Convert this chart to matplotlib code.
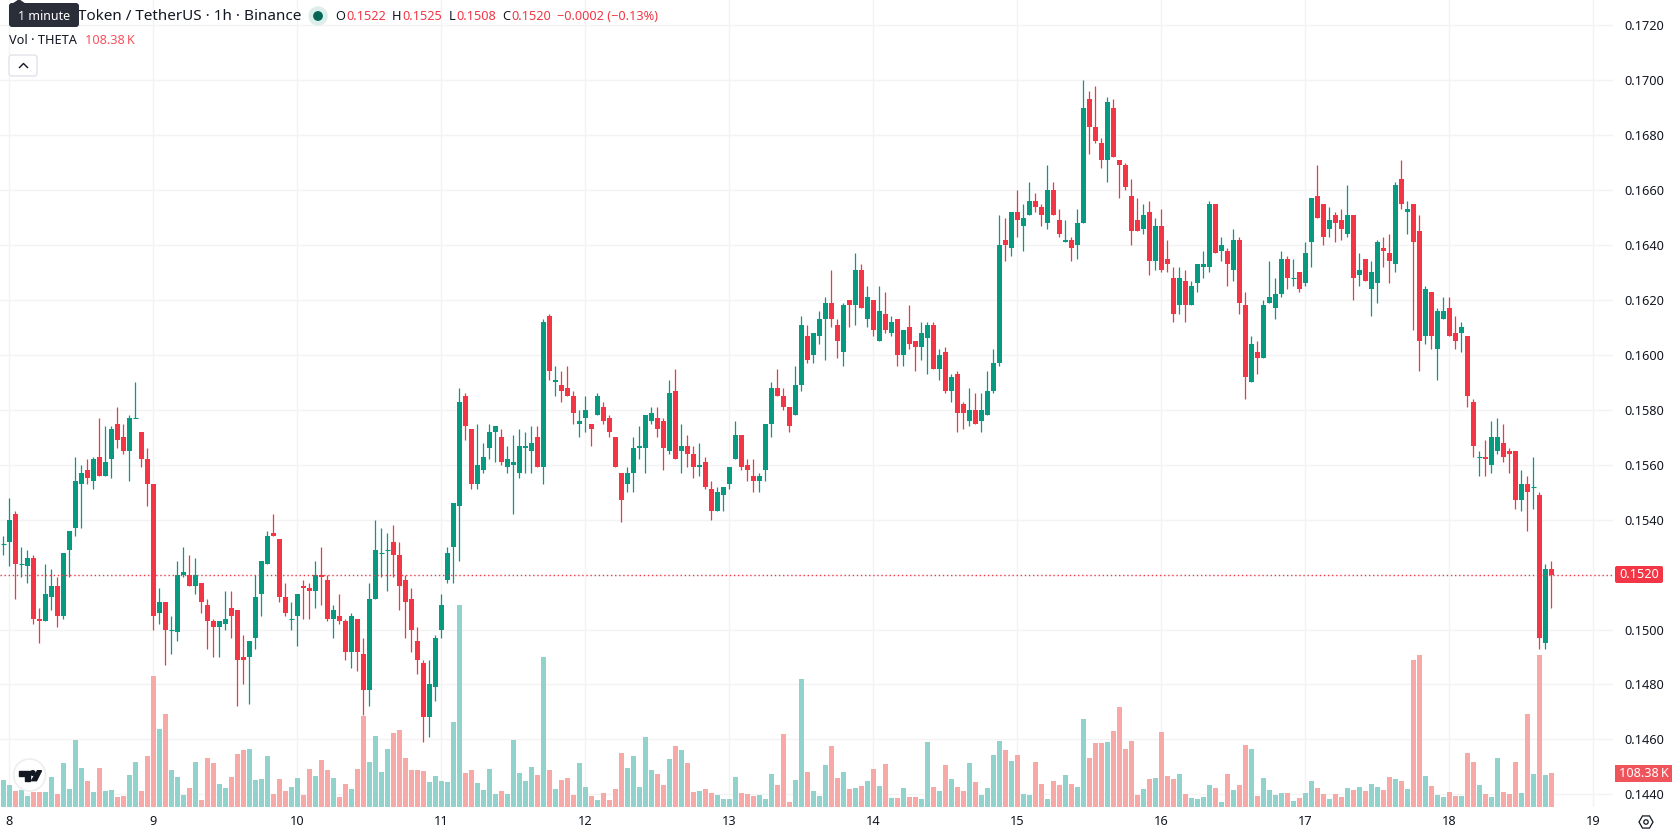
"""Hourly THETA/USDT candlesticks with a volume histogram, 8-18 of the month."""
import matplotlib
matplotlib.use('Agg')
import matplotlib.pyplot as plt
from matplotlib.patches import Circle, FancyBboxPatch, Polygon, Rectangle
import numpy as np

plt.rcParams['font.family'] = ['Noto Sans', 'DejaVu Sans']

# prices in units of 0.0001, one entry per hour
opens = [
    1531, 1532, 1542, 1524, 1523, 1526, 1504, 1503, 1512, 1516,
    1505, 1529, 1537, 1553, 1558, 1554, 1563, 1556, 1562, 1575,
    1570, 1565, 1577, 1572, 1562, 1553, 1506, 1510, 1500, 1499,
    1520, 1520, 1516, 1517, 1509, 1503, 1501, 1502, 1508, 1507,
    1490, 1490, 1497, 1513, 1524, 1535, 1533, 1512, 1504, 1505,
    1516, 1515, 1514, 1520, 1518, 1504, 1505, 1503, 1492, 1504,
    1491, 1478, 1511, 1528, 1529, 1532, 1527, 1518, 1511, 1496,
    1488, 1468, 1479, 1500, 1518, 1530, 1545, 1585, 1573, 1553,
    1558, 1566, 1572, 1570, 1559, 1560, 1557, 1566, 1565, 1570,
    1559, 1614, 1590, 1589, 1588, 1585, 1575, 1577, 1575, 1578,
    1581, 1577, 1570, 1557, 1553, 1557, 1566, 1566, 1576, 1577,
    1576, 1565, 1587, 1565, 1567, 1564, 1559, 1561, 1551, 1543,
    1549, 1553, 1562, 1571, 1560, 1556, 1554, 1558, 1575, 1588,
    1585, 1581, 1578, 1589, 1607, 1600, 1607, 1613, 1619, 1611,
    1601, 1620, 1618, 1631, 1613, 1620, 1605, 1615, 1608, 1613,
    1600, 1610, 1605, 1603, 1606, 1611, 1595, 1601, 1587, 1593,
    1582, 1576, 1580, 1576, 1578, 1587, 1597, 1642, 1639, 1652,
    1647, 1651, 1656, 1654, 1648, 1660, 1649, 1641, 1642, 1640,
    1648, 1693, 1683, 1677, 1671, 1690, 1671, 1669, 1658, 1649,
    1646, 1652, 1634, 1647, 1635, 1628, 1618, 1627, 1618, 1626,
    1632, 1632, 1655, 1638, 1638, 1631, 1642, 1618, 1590, 1601,
    1599, 1619, 1617, 1622, 1635, 1628, 1630, 1626, 1641, 1658,
    1655, 1646, 1651, 1649, 1644, 1651, 1629, 1635, 1624, 1626,
    1639, 1637, 1633, 1664, 1652, 1655, 1645, 1607, 1623, 1602,
    1613, 1617, 1608, 1608, 1607, 1583, 1563, 1563, 1560, 1565,
    1568, 1565, 1565, 1547, 1553, 1552, 1549, 1495, 1522,
]
highs = [
    1534, 1548, 1543, 1530, 1529, 1527, 1508, 1524, 1522, 1519,
    1528, 1536, 1563, 1560, 1562, 1563, 1577, 1574, 1574, 1581,
    1575, 1578, 1590, 1572, 1566, 1553, 1515, 1510, 1505, 1525,
    1530, 1527, 1526, 1517, 1511, 1504, 1503, 1514, 1514, 1507,
    1498, 1496, 1520, 1525, 1536, 1542, 1533, 1517, 1510, 1513,
    1518, 1517, 1525, 1530, 1520, 1509, 1513, 1504, 1506, 1504,
    1497, 1517, 1540, 1537, 1535, 1538, 1532, 1520, 1515, 1501,
    1489, 1489, 1498, 1513, 1530, 1546, 1588, 1586, 1573, 1575,
    1568, 1575, 1574, 1573, 1567, 1571, 1573, 1572, 1574, 1574,
    1613, 1615, 1596, 1594, 1596, 1587, 1580, 1585, 1575, 1586,
    1583, 1578, 1570, 1557, 1559, 1570, 1574, 1578, 1581, 1581,
    1577, 1591, 1595, 1575, 1571, 1567, 1568, 1563, 1554, 1552,
    1552, 1559, 1576, 1571, 1562, 1562, 1557, 1575, 1590, 1595,
    1588, 1581, 1596, 1614, 1611, 1608, 1616, 1621, 1631, 1613,
    1619, 1620, 1637, 1633, 1625, 1620, 1625, 1623, 1614, 1613,
    1609, 1618, 1605, 1612, 1612, 1612, 1602, 1603, 1593, 1594,
    1583, 1588, 1586, 1586, 1594, 1602, 1651, 1650, 1652, 1660,
    1655, 1663, 1659, 1655, 1669, 1663, 1653, 1649, 1643, 1653,
    1700, 1696, 1698, 1679, 1694, 1693, 1671, 1670, 1664, 1657,
    1655, 1656, 1650, 1653, 1642, 1632, 1632, 1631, 1627, 1633,
    1638, 1656, 1655, 1643, 1639, 1646, 1643, 1623, 1607, 1605,
    1620, 1634, 1628, 1638, 1636, 1635, 1630, 1641, 1657, 1669,
    1655, 1654, 1652, 1653, 1662, 1651, 1637, 1635, 1634, 1642,
    1643, 1644, 1663, 1671, 1656, 1655, 1651, 1625, 1623, 1617,
    1621, 1621, 1614, 1612, 1607, 1584, 1565, 1569, 1576, 1577,
    1575, 1566, 1565, 1558, 1556, 1563, 1550, 1524, 1525,
]
lows = [
    1527, 1523, 1511, 1519, 1517, 1502, 1495, 1503, 1507, 1501,
    1504, 1519, 1534, 1537, 1553, 1551, 1556, 1556, 1555, 1566,
    1564, 1554, 1577, 1559, 1545, 1500, 1502, 1487, 1491, 1496,
    1519, 1516, 1513, 1506, 1493, 1490, 1490, 1500, 1497, 1472,
    1480, 1473, 1493, 1505, 1524, 1534, 1510, 1505, 1500, 1494,
    1504, 1504, 1508, 1509, 1503, 1497, 1502, 1489, 1486, 1485,
    1469, 1472, 1511, 1519, 1514, 1519, 1507, 1497, 1492, 1484,
    1459, 1461, 1474, 1497, 1517, 1517, 1525, 1569, 1551, 1551,
    1557, 1562, 1561, 1560, 1557, 1542, 1555, 1557, 1557, 1559,
    1553, 1591, 1585, 1583, 1585, 1575, 1570, 1572, 1567, 1578,
    1575, 1570, 1559, 1539, 1550, 1550, 1562, 1557, 1575, 1570,
    1558, 1564, 1562, 1557, 1559, 1555, 1556, 1551, 1540, 1543,
    1543, 1551, 1562, 1558, 1554, 1550, 1550, 1554, 1570, 1585,
    1580, 1572, 1578, 1587, 1597, 1597, 1604, 1598, 1610, 1599,
    1596, 1610, 1611, 1617, 1610, 1607, 1605, 1608, 1607, 1596,
    1596, 1602, 1594, 1598, 1593, 1595, 1591, 1586, 1583, 1572,
    1573, 1574, 1575, 1572, 1578, 1586, 1596, 1634, 1636, 1643,
    1638, 1651, 1652, 1647, 1646, 1651, 1643, 1641, 1634, 1635,
    1648, 1673, 1677, 1668, 1663, 1672, 1657, 1660, 1640, 1645,
    1644, 1629, 1631, 1630, 1630, 1612, 1615, 1612, 1618, 1623,
    1628, 1630, 1637, 1634, 1625, 1627, 1615, 1584, 1590, 1593,
    1599, 1619, 1613, 1621, 1624, 1625, 1623, 1625, 1632, 1650,
    1640, 1643, 1641, 1642, 1643, 1620, 1625, 1627, 1614, 1619,
    1632, 1626, 1630, 1653, 1644, 1609, 1594, 1604, 1602, 1591,
    1613, 1607, 1602, 1601, 1581, 1563, 1556, 1556, 1557, 1564,
    1561, 1557, 1544, 1543, 1536, 1544, 1493, 1493, 1508,
]
closes = [
    1531, 1540, 1524, 1524, 1526, 1504, 1503, 1513, 1516, 1505,
    1528, 1536, 1554, 1557, 1555, 1562, 1556, 1561, 1573, 1569,
    1565, 1577, 1577, 1562, 1553, 1505, 1510, 1500, 1500, 1520,
    1521, 1516, 1520, 1510, 1503, 1501, 1503, 1504, 1505, 1489,
    1489, 1496, 1512, 1525, 1534, 1534, 1512, 1506, 1504, 1513,
    1515, 1514, 1520, 1519, 1504, 1507, 1503, 1492, 1505, 1492,
    1478, 1511, 1529, 1528, 1529, 1527, 1516, 1510, 1500, 1489,
    1468, 1480, 1497, 1509, 1528, 1546, 1583, 1574, 1553, 1560,
    1563, 1572, 1574, 1561, 1562, 1561, 1567, 1567, 1568, 1559,
    1612, 1594, 1591, 1587, 1585, 1579, 1576, 1580, 1573, 1585,
    1576, 1572, 1559, 1547, 1557, 1566, 1567, 1578, 1579, 1573,
    1566, 1586, 1562, 1567, 1564, 1559, 1560, 1552, 1543, 1550,
    1552, 1559, 1571, 1559, 1558, 1554, 1556, 1575, 1588, 1585,
    1581, 1574, 1589, 1611, 1598, 1608, 1613, 1619, 1613, 1605,
    1618, 1618, 1631, 1617, 1621, 1609, 1616, 1609, 1612, 1600,
    1609, 1604, 1603, 1608, 1611, 1595, 1600, 1587, 1592, 1579,
    1579, 1580, 1575, 1580, 1587, 1597, 1640, 1640, 1652, 1649,
    1650, 1656, 1654, 1651, 1660, 1651, 1644, 1642, 1639, 1648,
    1690, 1683, 1678, 1671, 1692, 1672, 1669, 1661, 1645, 1645,
    1651, 1634, 1647, 1631, 1633, 1615, 1628, 1618, 1625, 1633,
    1633, 1655, 1637, 1640, 1633, 1642, 1619, 1592, 1604, 1599,
    1618, 1621, 1622, 1635, 1628, 1628, 1624, 1637, 1657, 1650,
    1643, 1649, 1648, 1646, 1651, 1628, 1631, 1627, 1630, 1641,
    1638, 1634, 1662, 1655, 1653, 1641, 1605, 1624, 1607, 1616,
    1616, 1607, 1605, 1610, 1585, 1567, 1563, 1562, 1570, 1570,
    1563, 1564, 1547, 1553, 1550, 1552, 1497, 1522, 1520,
]
# volume in thousands
volumes = [
    86, 70, 51, 54, 35, 48, 48, 48, 96, 41,
    140, 57, 214, 124, 83, 48, 124, 51, 54, 32,
    35, 102, 143, 51, 163, 418, 249, 296, 118, 96,
    38, 61, 143, 22, 156, 140, 73, 61, 96, 169,
    182, 185, 86, 89, 163, 41, 89, 51, 64, 92,
    38, 121, 99, 150, 118, 92, 32, 73, 57, 121,
    290, 143, 226, 112, 185, 236, 245, 156, 118, 118,
    115, 80, 99, 83, 80, 271, 644, 108, 118, 77,
    54, 121, 41, 51, 41, 214, 108, 83, 128, 102,
    478, 118, 57, 86, 92, 38, 140, 64, 35, 22,
    45, 22, 57, 172, 124, 163, 64, 223, 118, 105,
    70, 153, 194, 182, 140, 48, 51, 57, 45, 38,
    26, 26, 96, 45, 41, 35, 38, 26, 105, 70,
    233, 16, 86, 408, 112, 51, 35, 134, 194, 92,
    112, 57, 61, 67, 83, 121, 67, 137, 29, 29,
    61, 32, 32, 26, 207, 64, 51, 134, 89, 64,
    51, 140, 80, 38, 61, 166, 210, 182, 147, 166,
    41, 38, 143, 73, 26, 83, 70, 102, 73, 64,
    281, 156, 204, 204, 207, 242, 319, 185, 210, 38,
    57, 89, 92, 239, 99, 89, 105, 41, 29, 26,
    32, 70, 61, 16, 105, 54, 70, 198, 185, 35,
    92, 54, 38, 45, 45, 19, 29, 45, 83, 61,
    41, 26, 41, 32, 61, 54, 64, 51, 73, 64,
    54, 96, 89, 83, 57, 469, 485, 99, 67, 38,
    32, 48, 35, 35, 172, 143, 70, 41, 32, 156,
    48, 41, 143, 45, 296, 105, 485, 102, 108.38,
]
day_labels = ['8', '9', '10', '11', '12', '13', '14', '15', '16', '17', '18', '19']
bold_days = ['8', '15']
price_ticks = [0.1440, 0.1460, 0.1480, 0.1500, 0.1520, 0.1540, 0.1560, 0.1580,
               0.1600, 0.1620, 0.1640, 0.1660, 0.1680, 0.1700, 0.1720]
last_price = 0.1520

GREEN = '#089981'
RED = '#F23645'
VOL_GREEN = '#92D2CC'
VOL_RED = '#F7A9A7'
GRID = '#F3F3F4'
TEXT = '#131722'
FS = 9.2

W, H = 1678, 835
PANE_RIGHT, PANE_BOTTOM = 1613, 807
XLIM = (-0.555, 268.3)
YLIM = (0.14354, 0.17292)

fig = plt.figure(figsize=(W / 100, H / 100), dpi=100, facecolor='white')
pane = [0, (H - PANE_BOTTOM) / H, PANE_RIGHT / W, PANE_BOTTOM / H]

o = np.array(opens) / 1e4
h = np.array(highs) / 1e4
l = np.array(lows) / 1e4
c = np.array(closes) / 1e4
x = np.arange(len(o))
up = c >= o
flat = c == o
colors = np.where(up, GREEN, RED)

# bottom layer: grid and both scales
ax = fig.add_axes(pane, zorder=0)
ax.set_xlim(*XLIM)
ax.set_ylim(*YLIM)
for s in ax.spines.values():
    s.set_visible(False)
day_pos = [1 + 24 * k for k in range(len(day_labels))]
ax.set_xticks(day_pos, day_labels)
# the last price tag stands in for the 0.1520 scale label
ax.set_yticks(price_ticks, ['' if p == last_price else '%.4f' % p for p in price_ticks])
ax.yaxis.tick_right()
ax.tick_params(axis='both', length=0, labelsize=FS, labelcolor=TEXT)
ax.tick_params(axis='x', pad=6)
ax.tick_params(axis='y', pad=8)
for lab in ax.get_xticklabels():
    if lab.get_text() in bold_days:
        lab.set_fontweight('bold')
ax.grid(True, color=GRID, linewidth=1.0)

# volume sits above the grid but behind the candles, on its own scale
ax_vol = fig.add_axes(pane, zorder=1)
ax_vol.bar(x, volumes, width=0.83, linewidth=0,
           color=np.where(up, VOL_GREEN, VOL_RED))
ax_vol.set_xlim(*XLIM)
ax_vol.set_ylim(0, PANE_BOTTOM * 3.1875)
ax_vol.axis('off')

ax_c = fig.add_axes(pane, zorder=2)
ax_c.set_xlim(*XLIM)
ax_c.set_ylim(*YLIM)
ax_c.axis('off')
ax_c.vlines(x, l, h, colors=colors, linewidth=0.9, zorder=3)
ax_c.bar(x, np.abs(c - o), bottom=np.minimum(o, c), width=0.83, color=colors,
         linewidth=0, zorder=4)
ax_c.hlines(o[flat], x[flat] - 0.415, x[flat] + 0.415, colors=colors[flat],
            linewidth=0.8, zorder=4)
ax_c.axhline(last_price, color=RED, linewidth=1.0, linestyle=(0, (0.95, 2.0)), zorder=5)

# header, price tags and icons are laid out in figure pixels
ui = fig.add_axes([0, 0, 1, 1], zorder=3)
ui.set_xlim(0, W)
ui.set_ylim(H, 0)
ui.axis('off')

ui.text(78.5, 16.5, 'Token / TetherUS · 1h · Binance', fontsize=11.0, color=TEXT, va='center')
ui.add_patch(Circle((318, 16), 9, color='#DCEFEB', zorder=2))
ui.add_patch(Circle((318, 16), 4.2, color='#056656', zorder=3))
ohlc = [(335, 'O', 346, '0.1522'), (392, 'H', 402, '0.1525'),
        (449, 'L', 456, '0.1508'), (502, 'C', 511, '0.1520')]
for kx, key, vx, val in ohlc:
    ui.text(kx, 16.5, key, fontsize=FS, color=TEXT, va='center')
    ui.text(vx, 16.5, val, fontsize=FS, color=RED, va='center')
ui.text(557, 16.5, '−0.0002 (−0.13%)', fontsize=FS, color=RED, va='center')

ui.add_patch(FancyBboxPatch((11, 5), 66, 20, boxstyle='round,pad=2,rounding_size=3',
                            facecolor='#2A2E39', edgecolor='none', zorder=4))
ui.add_patch(Polygon([(13, 4), (19, 0), (25, 4)], color='#2A2E39', zorder=4))
ui.text(44, 16, '1 minute', fontsize=9, color='white', va='center', ha='center', zorder=5)

ui.text(9, 41, 'Vol · THETA', fontsize=FS, color=TEXT, va='center')
ui.text(85, 41, '108.38\u2009K', fontsize=FS, color='#F7525F', va='center')
ui.add_patch(FancyBboxPatch((11, 57), 24, 17, boxstyle='round,pad=2,rounding_size=3',
                            facecolor='white', edgecolor='#E0E3EB', linewidth=1))
ui.plot([19.5, 23.5, 27.5], [67.5, 63.5, 67.5], color=TEXT, linewidth=1)

# price and volume tags on the right scale
ui.add_patch(FancyBboxPatch((1616, 567), 46, 15, boxstyle='round,pad=1,rounding_size=2',
                            facecolor=RED, edgecolor='none', zorder=4))
ui.text(1639, 574.5, '0.1520', fontsize=FS, color='white', ha='center', va='center', zorder=5)
ui.add_patch(Rectangle((1615, 765), 57, 17, facecolor='#F0545B', edgecolor='none', zorder=4))
ui.text(1643.5, 773.5, '108.38\u2009K', fontsize=FS, color='white', ha='center', va='center', zorder=5)

# watermark in the lower left corner
ui.add_patch(Circle((29.6, 775), 16, facecolor='white', edgecolor='#EDEEF0', linewidth=1.2, zorder=4))
ui.add_patch(Polygon([(18.6, 770.7), (30, 770.7), (30, 780.7), (25, 780.7), (25, 775.5), (18.6, 775.5)],
                     color='#131722', zorder=5))
ui.add_patch(Circle((32.8, 773), 2.3, color='#131722', zorder=5))
ui.add_patch(Polygon([(37.5, 770.7), (41.5, 770.7), (36.5, 780.7), (31.5, 780.7)], color='#131722', zorder=5))

# settings icon below the price scale
angles = np.deg2rad(np.arange(0, 360, 60))
hexagon = np.column_stack([1646 + 7 * np.cos(angles), 822 + 7 * np.sin(angles)])
ui.add_patch(Polygon(hexagon, fill=False, edgecolor=TEXT, linewidth=0.9))
ui.add_patch(Circle((1646, 822), 2.2, fill=False, edgecolor=TEXT, linewidth=0.9))

fig.savefig('out.png', dpi=100)
